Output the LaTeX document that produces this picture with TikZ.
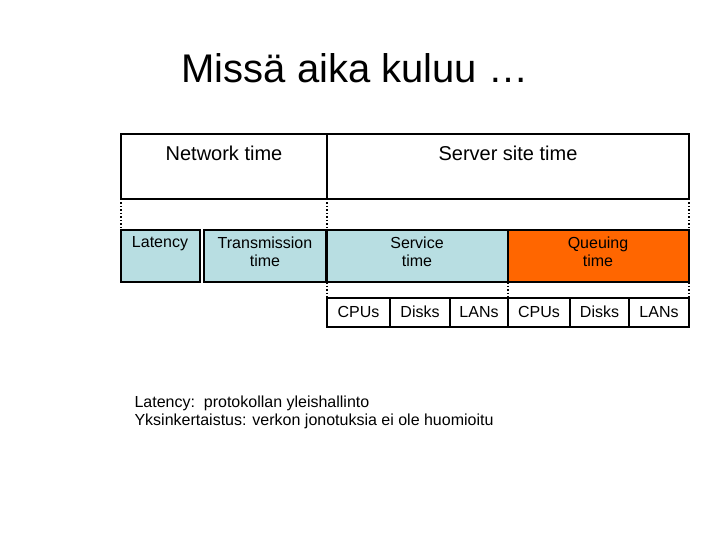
\documentclass[tikz,border=0pt]{standalone}
\usepackage{fontspec}
\setmainfont{Liberation Sans}
\begin{document}
\begin{tikzpicture}[x=1pt,y=-1pt,
  cell/.style={draw,line width=1.2pt},
  dots/.style={line width=1.5pt,dotted},
  lbl/.style={font=\fontsize{16}{18}\selectfont,align=center}]
\useasboundingbox (0,0) rectangle (720,540);
\definecolor{lb}{HTML}{B8DEE2}
\definecolor{org}{HTML}{FF6600}
\node (title) at (355,68) {\fontsize{40}{44}\selectfont Missä aika kuluu …};
\draw[cell] (121,134) rectangle (327,199);
\draw[cell] (327,134) rectangle (689,199);
\node (nt) at (224,153) {\fontsize{20}{22}\selectfont Network time};
\node (st) at (508,153) {\fontsize{20}{22}\selectfont Server site time};
\foreach \x in {121,327,689} \draw[dots] (\x,199) -- (\x,230);
\draw[cell,fill=lb] (121,230) rectangle (200,282);
\draw[cell,fill=lb] (204,230) rectangle (326,282);
\draw[cell,fill=lb] (327,230) rectangle (508,282);
\draw[cell,fill=org] (508,230) rectangle (689,282);
\node[lbl,anchor=north] (lat) at (160,233) {Latency};
\node[lbl,anchor=north] (tr) at (265,233) {Transmission\\time};
\node[lbl,anchor=north] (sv) at (417,233) {Service\\time};
\node[lbl,anchor=north] (qu) at (598,233) {Queuing\\time};
\foreach \x in {327,508,689} \draw[dots] (\x,282) -- (\x,298);
\foreach \a/\b/\t in {327/390/CPUs,390/450/Disks,450/508/LANs,508/570/CPUs,570/629/Disks,629/689/LANs}{
  \draw[cell] (\a,298) rectangle (\b,327);
  \node[lbl] at ({(\a+\b)/2},312) {\t};}
\node[lbl,anchor=west,align=left] (note) at (131,412) {Latency:\ \ protokollan yleishallinto\\Yksinkertaistus: verkon jonotuksia ei ole huomioitu};
\end{tikzpicture}
\end{document}
